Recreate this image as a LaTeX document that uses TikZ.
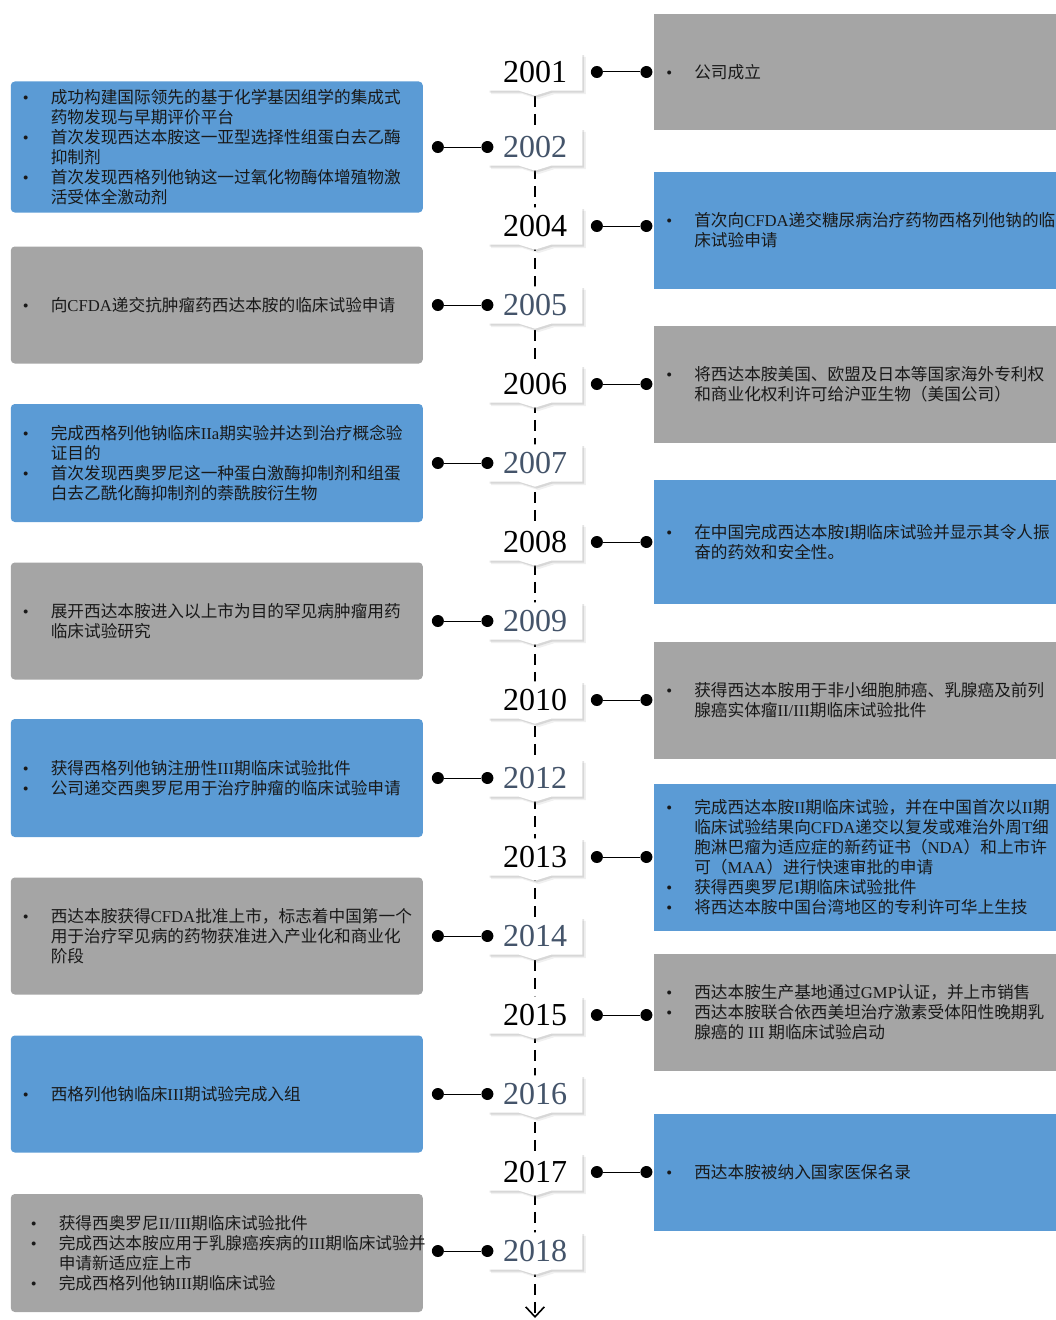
\documentclass[tikz,border=0pt]{standalone}
\usepackage{fontspec}
\setmainfont{Liberation Serif}
\newfontfamily\cjk{Noto Sans CJK SC}
\usetikzlibrary{positioning,shapes.callouts,shadows,arrows.meta,backgrounds}

\definecolor{boxblue}{RGB}{91,155,213}
\definecolor{boxgray}{RGB}{165,165,165}
\definecolor{yearblue}{RGB}{68,84,106}

\newcommand{\lt}[1]{{\rmfamily #1}}
\newcommand{\bl}{\makebox[21pt][l]{\rmfamily\textbullet}}
\newcommand{\ind}{\hspace*{21pt}}

\tikzset{
	year/.style={rectangle callout, fill=white, inner sep=0pt,
		minimum width=71pt, minimum height=28pt,
		callout relative pointer={(0pt,-3.75pt)}, callout pointer width=24pt,
		drop shadow={shadow xshift=2.6pt, shadow yshift=-2.6pt, opacity=0.12},
		drop shadow={shadow xshift=1.4pt, shadow yshift=-1.4pt, opacity=0.22},
		font=\fontsize{24}{24}\selectfont},
	yearalt/.style={year, text=yearblue},
	knob/.style={circle, fill=black, minimum size=9pt, inner sep=0pt},
	link/.style={line width=0.75pt},
	timeline/.style={line width=1.8pt, dash pattern=on 8.5pt off 5pt,
		-{Straight Barb[length=7.5pt,width=14pt,line width=1.2pt]}},
	bluebox/.style={rectangle, fill=boxblue, inner sep=0pt, minimum height=87.75pt},
	graybox/.style={rectangle, fill=boxgray, inner sep=0pt, minimum height=87.75pt},
	lbox/.style={minimum width=309pt, rounded corners=3pt},
	rbox/.style={minimum width=307.5pt},
	entry/.style={font=\cjk\fontsize{12.5}{15}\selectfont, align=left, inner sep=0pt, text=black!90}
}

\begin{document}
\begin{tikzpicture}[x=0.75pt, y=-0.75pt]
	\useasboundingbox (0,0) rectangle (1056,1320);

	\node[year] (y2001) at (535,72) {2001};
	\node[yearalt] (y2002) at (535,147) {2002};
	\node[year] (y2004) at (535,226) {2004};
	\node[yearalt] (y2005) at (535,305) {2005};
	\node[year] (y2006) at (535,384) {2006};
	\node[yearalt] (y2007) at (535,463) {2007};
	\node[year] (y2008) at (535,542) {2008};
	\node[yearalt] (y2009) at (535,621) {2009};
	\node[year] (y2010) at (535,700) {2010};
	\node[yearalt] (y2012) at (535,778) {2012};
	\node[year] (y2013) at (535,857) {2013};
	\node[yearalt] (y2014) at (535,936) {2014};
	\node[year] (y2015) at (535,1015) {2015};
	\node[yearalt] (y2016) at (535,1094) {2016};
	\node[year] (y2017) at (535,1172) {2017};
	\node[yearalt] (y2018) at (535,1251) {2018};
	\coordinate (tlend) at (535,1318);

	\begin{pgfonlayer}{background}
		\draw[timeline] (y2001.pointer) -- (tlend);
	\end{pgfonlayer}

	% right side
	\node[knob, right=6pt of y2001] (p2001) {};
	\node[knob, right=27.75pt of p2001] (q2001) {};
	\draw[link] (p2001) -- (q2001);
	\node[graybox, rbox, minimum height=86.25pt, right=1pt of q2001] (b2001) {};
	\node[entry, right=9pt of b2001.west] (t2001) {\bl 公司成立};

	\node[knob, right=6pt of y2004] (p2004) {};
	\node[knob, right=27.75pt of p2004] (q2004) {};
	\draw[link] (p2004) -- (q2004);
	\node[bluebox, rbox, right=1pt of q2004, yshift=-3pt] (b2004) {};
	\node[entry, right=9pt of b2004.west] (t2004) {\bl 首次向\lt{CFDA}递交糖尿病治疗药物西格列他钠的临\\
		\ind 床试验申请};

	\node[knob, right=6pt of y2006] (p2006) {};
	\node[knob, right=27.75pt of p2006] (q2006) {};
	\draw[link] (p2006) -- (q2006);
	\node[graybox, rbox, right=1pt of q2006] (b2006) {};
	\node[entry, right=9pt of b2006.west] (t2006) {\bl 将西达本胺美国、欧盟及日本等国家海外专利权\\
		\ind 和商业化权利许可给沪亚生物（美国公司）};

	\node[knob, right=6pt of y2008] (p2008) {};
	\node[knob, right=27.75pt of p2008] (q2008) {};
	\draw[link] (p2008) -- (q2008);
	\node[bluebox, rbox, minimum height=93pt, right=1pt of q2008] (b2008) {};
	\node[entry, right=9pt of b2008.west] (t2008) {\bl 在中国完成西达本胺\lt{I}期临床试验并显示其令人振\\
		\ind 奋的药效和安全性。};

	\node[knob, right=6pt of y2010] (p2010) {};
	\node[knob, right=27.75pt of p2010] (q2010) {};
	\draw[link] (p2010) -- (q2010);
	\node[graybox, rbox, right=1pt of q2010] (b2010) {};
	\node[entry, right=9pt of b2010.west] (t2010) {\bl 获得西达本胺用于非小细胞肺癌、乳腺癌及前列\\
		\ind 腺癌实体瘤\lt{II/III}期临床试验批件};

	\node[knob, right=6pt of y2013] (p2013) {};
	\node[knob, right=27.75pt of p2013] (q2013) {};
	\draw[link] (p2013) -- (q2013);
	\node[bluebox, rbox, minimum height=110.25pt, right=1pt of q2013] (b2013) {};
	\node[entry, right=9pt of b2013.west] (t2013) {\bl 完成西达本胺\lt{II}期临床试验，并在中国首次以\lt{II}期\\
		\ind 临床试验结果向\lt{CFDA}递交以复发或难治外周\lt{T}细\\
		\ind 胞淋巴瘤为适应症的新药证书（\lt{NDA}）和上市许\\
		\ind 可（\lt{MAA}）进行快速审批的申请\\
		\bl 获得西奥罗尼\lt{I}期临床试验批件\\
		\bl 将西达本胺中国台湾地区的专利许可华上生技};

	\node[knob, right=6pt of y2015] (p2015) {};
	\node[knob, right=27.75pt of p2015] (q2015) {};
	\draw[link] (p2015) -- (q2015);
	\node[graybox, rbox, right=1pt of q2015, yshift=2pt] (b2015) {};
	\node[entry, right=9pt of b2015.west] (t2015) {\bl 西达本胺生产基地通过\lt{GMP}认证，并上市销售\\
		\bl 西达本胺联合依西美坦治疗激素受体阳性晚期乳\\
		\ind 腺癌的 \lt{III} 期临床试验启动};

	\node[knob, right=6pt of y2017] (p2017) {};
	\node[knob, right=27.75pt of p2017] (q2017) {};
	\draw[link] (p2017) -- (q2017);
	\node[bluebox, rbox, right=1pt of q2017] (b2017) {};
	\node[entry, right=9pt of b2017.west] (t2017) {\bl 西达本胺被纳入国家医保名录};

	% left side
	\node[knob] (p2002) at (y2002.west) {};
	\node[knob, left=27.75pt of p2002] (q2002) {};
	\draw[link] (q2002) -- (p2002);
	\node[bluebox, lbox, minimum height=98.25pt, left=6.4pt of q2002] (b2002) {};
	\node[entry, right=9pt of b2002.west] (t2002) {\bl 成功构建国际领先的基于化学基因组学的集成式\\
		\ind 药物发现与早期评价平台\\
		\bl 首次发现西达本胺这一亚型选择性组蛋白去乙酶\\
		\ind 抑制剂\\
		\bl 首次发现西格列他钠这一过氧化物酶体增殖物激\\
		\ind 活受体全激动剂};

	\node[knob] (p2005) at (y2005.west) {};
	\node[knob, left=27.75pt of p2005] (q2005) {};
	\draw[link] (q2005) -- (p2005);
	\node[graybox, lbox, left=6.4pt of q2005] (b2005) {};
	\node[entry, right=9pt of b2005.west] (t2005) {\bl 向\lt{CFDA}递交抗肿瘤药西达本胺的临床试验申请};

	\node[knob] (p2007) at (y2007.west) {};
	\node[knob, left=27.75pt of p2007] (q2007) {};
	\draw[link] (q2007) -- (p2007);
	\node[bluebox, lbox, minimum height=88.5pt, left=6.4pt of q2007] (b2007) {};
	\node[entry, right=9pt of b2007.west] (t2007) {\bl 完成西格列他钠临床\lt{IIa}期实验并达到治疗概念验\\
		\ind 证目的\\
		\bl 首次发现西奥罗尼这一种蛋白激酶抑制剂和组蛋\\
		\ind 白去乙酰化酶抑制剂的萘酰胺衍生物};

	\node[knob] (p2009) at (y2009.west) {};
	\node[knob, left=27.75pt of p2009] (q2009) {};
	\draw[link] (q2009) -- (p2009);
	\node[graybox, lbox, left=6.4pt of q2009] (b2009) {};
	\node[entry, right=9pt of b2009.west] (t2009) {\bl 展开西达本胺进入以上市为目的罕见病肿瘤用药\\
		\ind 临床试验研究};

	\node[knob] (p2012) at (y2012.west) {};
	\node[knob, left=27.75pt of p2012] (q2012) {};
	\draw[link] (q2012) -- (p2012);
	\node[bluebox, lbox, minimum height=88.5pt, left=6.4pt of q2012] (b2012) {};
	\node[entry, right=9pt of b2012.west] (t2012) {\bl 获得西格列他钠注册性\lt{III}期临床试验批件\\
		\bl 公司递交西奥罗尼用于治疗肿瘤的临床试验申请};

	\node[knob] (p2014) at (y2014.west) {};
	\node[knob, left=27.75pt of p2014] (q2014) {};
	\draw[link] (q2014) -- (p2014);
	\node[graybox, lbox, left=6.4pt of q2014] (b2014) {};
	\node[entry, right=9pt of b2014.west] (t2014) {\bl 西达本胺获得\lt{CFDA}批准上市，标志着中国第一个\\
		\ind 用于治疗罕见病的药物获准进入产业化和商业化\\
		\ind 阶段};

	\node[knob] (p2016) at (y2016.west) {};
	\node[knob, left=27.75pt of p2016] (q2016) {};
	\draw[link] (q2016) -- (p2016);
	\node[bluebox, lbox, left=6.4pt of q2016] (b2016) {};
	\node[entry, right=9pt of b2016.west] (t2016) {\bl 西格列他钠临床\lt{III}期试验完成入组};

	\node[knob] (p2018) at (y2018.west) {};
	\node[knob, left=27.75pt of p2018] (q2018) {};
	\draw[link] (q2018) -- (p2018);
	\node[graybox, lbox, minimum height=88.5pt, left=6.4pt of q2018, yshift=-1.5pt] (b2018) {};
	\node[entry, right=15pt of b2018.west] (t2018) {\bl 获得西奥罗尼\lt{II/III}期临床试验批件\\
		\bl 完成西达本胺应用于乳腺癌疾病的\lt{III}期临床试验并\\
		\ind 申请新适应症上市\\
		\bl 完成西格列他钠\lt{III}期临床试验};
\end{tikzpicture}
\end{document}
